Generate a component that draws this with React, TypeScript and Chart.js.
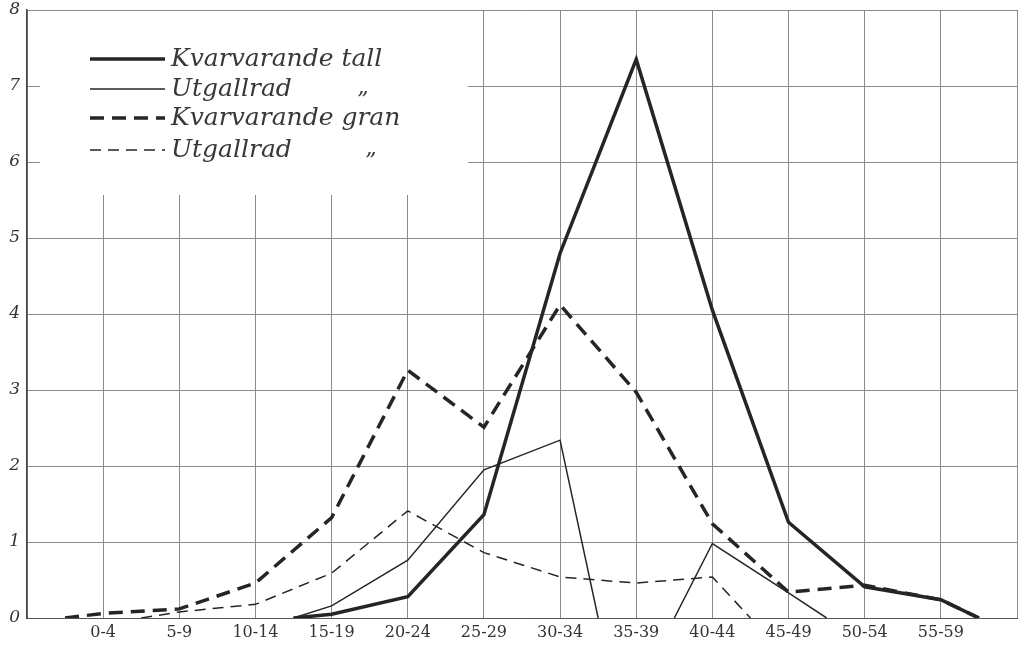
import React, { useEffect, useRef } from "react";
import { Chart, registerables } from "chart.js";

Chart.register(...registerables);

// Age classes (x-axis tick labels), placed at class positions 1..12
const ageClasses = ["0-4", "5-9", "10-14", "15-19", "20-24", "25-29", "30-34", "35-39", "40-44", "45-49", "50-54", "55-59"];
const yTickValues = [0, 1, 2, 3, 4, 5, 6, 7, 8];

// Series: position on the class axis (1 = "0-4", 12 = "55-59"), and value
const tallKvarPos = [3.5, 4, 5, 6, 7, 8, 9, 10, 11, 12, 12.5];
const tallKvarVal = [0, 0.05, 0.28, 1.36, 4.8, 7.35, 4.05, 1.26, 0.41, 0.24, 0];

const tallUtgPos = [3.5, 4, 5, 6, 7, 7.5, 8, 8.5, 9, 10, 10.5];
const tallUtgVal = [0, 0.16, 0.76, 1.95, 2.34, 0, null, 0, 0.98, 0.33, 0];

const granKvarPos = [0.5, 1, 2, 3, 4, 5, 6, 7, 8, 9, 10, 11, 12, 12.5];
const granKvarVal = [0, 0.06, 0.12, 0.46, 1.32, 3.26, 2.51, 4.12, 2.97, 1.24, 0.34, 0.43, 0.24, 0];

const granUtgPos = [1.5, 2, 3, 4, 5, 6, 7, 8, 9, 9.5];
const granUtgVal = [0, 0.08, 0.18, 0.59, 1.41, 0.86, 0.54, 0.46, 0.54, 0];

const seriesLabels = ["Kvarvarande tall", "Utgallrad", "Kvarvarande gran", "Utgallrad"];
const dittoMark = "\u201D";

const INK = "#252525";
const GRID = "#8a8a8a";

function toPoints(pos: number[], val: (number | null)[]) {
  return pos.map((x, i) => ({ x, y: val[i] }));
}

const legendPlugin = {
  id: "oldLegend",
  beforeDatasetsDraw(chart: any) {
    const { ctx, chartArea } = chart;
    const left = chartArea.left;
    const top = chartArea.top;
    ctx.save();
    // white legend box hiding the grid
    ctx.fillStyle = "#ffffff";
    ctx.fillRect(left + 13, top + 1, 428, 184);
    const rows = [49, 79, 108, 140];
    const sx0 = left + 63;
    const sx1 = left + 138;
    chart.data.datasets.forEach((ds: any, i: number) => {
      const y = top + rows[i];
      ctx.beginPath();
      ctx.strokeStyle = INK;
      ctx.lineWidth = ds.borderWidth;
      ctx.setLineDash(ds.borderDash || []);
      ctx.moveTo(sx0, y);
      ctx.lineTo(sx1, y);
      ctx.stroke();
      ctx.setLineDash([]);
      ctx.fillStyle = "#383838";
      ctx.font = "italic 25px 'DejaVu Serif'";
      ctx.textBaseline = "middle";
      ctx.textAlign = "left";
      ctx.fillText(seriesLabels[i], left + 144, y);
      if (i === 1 || i === 3) {
        ctx.font = "italic 22px 'DejaVu Serif'";
        ctx.fillText(dittoMark, left + (i === 1 ? 330 : 338), y + 12);
      }
    });
    ctx.restore();
  },
};

export default function App() {
  const canvasRef = useRef<HTMLCanvasElement | null>(null);

  useEffect(() => {
    document.body.style.margin = "0";
    const canvas = canvasRef.current;
    if (!canvas) return;
    const chart = new Chart(canvas, {
      type: "line",
      data: {
        datasets: [
          {
            label: seriesLabels[0],
            data: toPoints(tallKvarPos, tallKvarVal),
            borderColor: INK,
            borderWidth: 3.5,
            pointRadius: 0,
            tension: 0,
            fill: false,
          },
          {
            label: seriesLabels[1],
            data: toPoints(tallUtgPos, tallUtgVal),
            borderColor: INK,
            borderWidth: 1.5,
            pointRadius: 0,
            tension: 0,
            fill: false,
            spanGaps: false,
          },
          {
            label: seriesLabels[2],
            data: toPoints(granKvarPos, granKvarVal),
            borderColor: INK,
            borderWidth: 3.5,
            borderDash: [14, 8],
            pointRadius: 0,
            tension: 0,
            fill: false,
          },
          {
            label: seriesLabels[3],
            data: toPoints(granUtgPos, granUtgVal),
            borderColor: INK,
            borderWidth: 1.5,
            borderDash: [11, 7],
            pointRadius: 0,
            tension: 0,
            fill: false,
          },
        ],
      },
      options: {
        responsive: false,
        animation: false,
        events: [],
        layout: { padding: { top: 10, right: 9, left: 0, bottom: 0 } },
        plugins: {
          legend: { display: false },
          tooltip: { enabled: false },
          title: { display: false },
        },
        scales: {
          x: {
            type: "linear",
            min: 0,
            max: 13,
            afterBuildTicks: (scale: any) => {
              scale.ticks = Array.from({ length: 14 }, (_, i) => ({ value: i }));
            },
            afterFit: (scale: any) => {
              scale.height = 28;
              scale.paddingLeft = 0;
              scale.paddingRight = 0;
            },
            ticks: {
              autoSkip: false,
              maxRotation: 0,
              padding: 5,
              color: "#333",
              font: { family: "'DejaVu Serif'", size: 16 },
              callback: (v: any) => {
                const i = Math.round(Number(v));
                return i >= 1 && i <= ageClasses.length ? ageClasses[i - 1] : "";
              },
            },
            grid: { color: GRID, lineWidth: 1, drawTicks: false },
            border: { color: "#555", width: 1 },
          },
          y: {
            type: "linear",
            min: 0,
            max: 8,
            afterBuildTicks: (scale: any) => {
              scale.ticks = yTickValues.map((v) => ({ value: v }));
            },
            afterFit: (scale: any) => {
              scale.width = 27;
              scale.paddingTop = 0;
              scale.paddingBottom = 0;
            },
            ticks: {
              padding: 7,
              color: "#333",
              font: { family: "'DejaVu Serif'", size: 17, style: "italic" },
              callback: (v: any) => String(v),
            },
            grid: { color: GRID, lineWidth: 1, drawTicks: false },
            border: { color: "#444", width: 1.5 },
          },
        },
      },
      plugins: [legendPlugin],
    } as any);
    return () => chart.destroy();
  }, []);

  return (
    <div style={{ width: 1026, height: 646, background: "#fff" }}>
      <canvas ref={canvasRef} width={1026} height={646} style={{ display: "block" }} />
    </div>
  );
}
